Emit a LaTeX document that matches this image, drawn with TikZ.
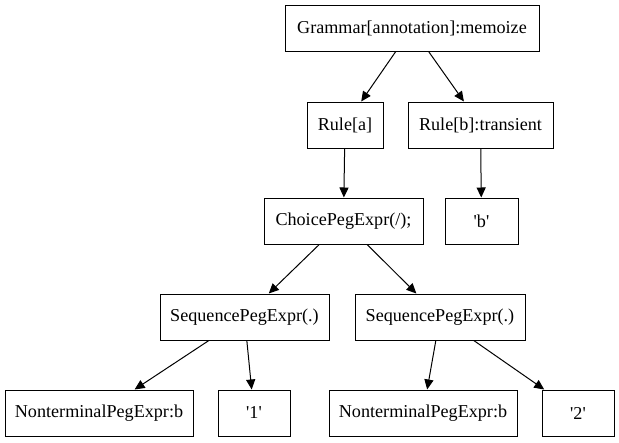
\documentclass[tikz,border=0pt]{standalone}
\usepackage{fontspec}
\setmainfont{Liberation Serif}
\usetikzlibrary{arrows.meta}
\begin{document}
\begin{tikzpicture}[x=0.75pt, y=-0.75pt,
  box/.style={draw, line width=0.75pt, minimum height=34.5pt, inner sep=0pt, font=\fontsize{13.6}{16}\selectfont},
  arrow/.style={-{Triangle[length=7.5pt,width=6.8pt]}, line width=0.75pt}
]
\useasboundingbox (0,0) rectangle (619,443);
\node[box, minimum width=190.5pt] (gram) at (412,28) {Grammar[annotation]:memoize};
\node[box, minimum width=57pt] (rulea) at (345,125) {Rule[a]};
\node[box, minimum width=108.75pt] (ruleb) at (480.5,125) {Rule[b]:transient};
\node[box, minimum width=119.25pt] (choice) at (343.5,221) {ChoicePegExpr(/);};
\node[box, minimum width=54.75pt] (litb) at (481.5,221) {\textquotesingle b\textquotesingle};
\node[box, minimum width=126.75pt] (seqa) at (244.5,317) {SequencePegExpr(.)};
\node[box, minimum width=127.5pt] (seqb) at (440,317) {SequencePegExpr(.)};
\node[box, minimum width=141pt] (nta) at (99,413) {NonterminalPegExpr:b};
\node[box, minimum width=54pt] (litone) at (254,413) {\textquotesingle 1\textquotesingle};
\node[box, minimum width=141pt] (ntb) at (423,413) {NonterminalPegExpr:b};
\node[box, minimum width=54pt] (littwo) at (578,413) {\textquotesingle 2\textquotesingle};
\draw[arrow] (gram) -- (rulea);
\draw[arrow] (gram) -- (ruleb);
\draw[arrow] (rulea) -- (choice);
\draw[arrow] (ruleb) -- (litb);
\draw[arrow] (choice) -- (seqa);
\draw[arrow] (choice) -- (seqb);
\draw[arrow] (seqa) -- (nta);
\draw[arrow] (seqa) -- (litone);
\draw[arrow] (seqb) -- (ntb);
\draw[arrow] (seqb) -- (littwo);
\end{tikzpicture}
\end{document}
